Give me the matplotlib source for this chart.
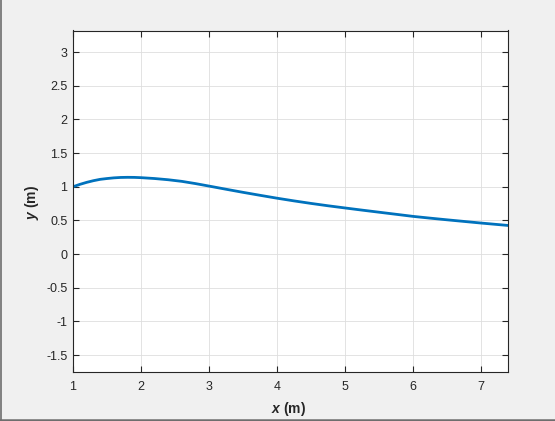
import numpy as np
import matplotlib
matplotlib.use("Agg")
import matplotlib.pyplot as plt
from matplotlib.lines import Line2D

# Data
x_vals = [1.0, 1.1, 1.2, 1.3, 1.4, 1.5, 1.6, 1.7, 1.8, 1.9, 2.0, 2.2, 2.4, 2.6,
          2.8, 3.0, 3.25, 3.5, 3.75, 4.0, 4.25, 4.5, 4.75, 5.0, 5.25, 5.5,
          5.75, 6.0, 6.25, 6.5, 6.75, 7.0, 7.2, 7.4]
y_vals = [1.0, 1.035, 1.065, 1.09, 1.11, 1.122, 1.132, 1.138, 1.14, 1.139, 1.135,
          1.122, 1.104, 1.08, 1.047, 1.01, 0.963, 0.917, 0.873, 0.83, 0.79,
          0.7525, 0.7175, 0.685, 0.653, 0.622, 0.591, 0.56, 0.534, 0.509,
          0.485, 0.461, 0.443, 0.425]
x_ticks = [1, 2, 3, 4, 5, 6, 7]
y_ticks = [-1.5, -1, -0.5, 0, 0.5, 1, 1.5, 2, 2.5, 3]
y_tick_labels = ["-1.5", "-1", "-0.5", "0", "0.5", "1", "1.5", "2", "2.5", "3"]

plt.rcParams['font.family'] = ['Liberation Sans', 'DejaVu Sans']
plt.rcParams['axes.unicode_minus'] = False
plt.rcParams['mathtext.fontset'] = 'custom'
plt.rcParams['mathtext.it'] = 'Liberation Sans:bold:italic'
plt.rcParams['mathtext.rm'] = 'Liberation Sans:bold'

W, H = 555, 421
fig = plt.figure(figsize=(W / 100, H / 100), dpi=100, facecolor='#f0f0f0')
ax = fig.add_axes([73 / W, 1 - 372.3 / H, (508.3 - 73) / W, (372.3 - 30.5) / H])
ax.set_facecolor('white')

ax.plot(x_vals, y_vals, color='#0072BD', lw=2.0, solid_capstyle='butt',
        solid_joinstyle='round')

ax.set_xlim(1, 7.4)
ax.set_ylim(-1.755, 3.32)
ax.set_xticks(x_ticks)
ax.set_yticks(y_ticks)
ax.set_yticklabels(y_tick_labels)

ax.grid(True, color='#dedede', lw=0.6)
ax.set_axisbelow(True)
for s in ax.spines.values():
    s.set_color('#262626')
    s.set_linewidth(0.8)
ax.tick_params(direction='in', length=4, width=0.8, color='#262626',
               labelcolor='#262626', labelsize=9, top=True, right=True)
ax.tick_params(axis='x', pad=6.5)
ax.tick_params(axis='y', pad=4)

fig.text(289 / W, 1 - 409 / H, r'$\mathit{x}$ (m)', ha='center', va='center',
         fontsize=10, fontweight='bold', color='#262626')
fig.text(32 / W, 1 - 203 / H, r'$\mathit{y}$ (m)', ha='center', va='center',
         rotation=90, fontsize=10, fontweight='bold', color='#262626')

# window frame lines
fig.add_artist(Line2D([1.0 / W, 1.0 / W], [0, 1], transform=fig.transFigure,
                      color='#6e6e6e', lw=1.2))
fig.add_artist(Line2D([0, 1], [1.5 / H, 1.5 / H], transform=fig.transFigure,
                      color='#6e6e6e', lw=1.8))

fig.savefig('out.png', dpi=100, facecolor=fig.get_facecolor())
